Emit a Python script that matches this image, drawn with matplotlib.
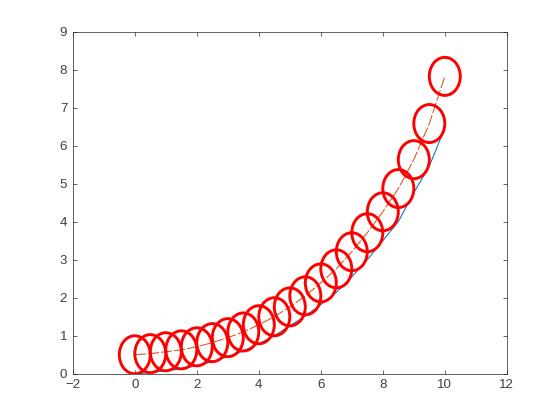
import matplotlib
matplotlib.use("Agg")
import matplotlib.pyplot as plt
from matplotlib.patches import Ellipse

# ---- data ----
x_vals = [0, 0.5, 1, 1.5, 2, 2.5, 3, 3.5, 4, 4.5, 5, 5.5, 6, 6.5, 7, 7.5, 8, 8.5, 9, 9.5, 10]
y_circle = [0.50, 0.53, 0.58, 0.63, 0.71, 0.82, 0.95, 1.10, 1.29, 1.50, 1.76, 2.05,
            2.39, 2.76, 3.21, 3.71, 4.26, 4.87, 5.63, 6.58, 7.82]
y_blue = [0.00, 0.03, 0.08, 0.13, 0.21, 0.32, 0.45, 0.60, 0.79, 1.00, 1.26, 1.52,
          1.82, 2.14, 2.55, 3.00, 3.50, 4.00, 4.76, 5.46, 6.46]
circle_diameter = 1.0
x_ticks = [-2, 0, 2, 4, 6, 8, 10, 12]
y_ticks = [0, 1, 2, 3, 4, 5, 6, 7, 8, 9]

plt.rcParams['font.family'] = ['Liberation Sans', 'DejaVu Sans']
plt.rcParams['lines.scale_dashes'] = False

fig = plt.figure(figsize=(5.6, 4.2), dpi=100)
ax = fig.add_axes([0.13, 0.11, 0.775, 0.815])

ax.plot(x_vals, y_blue, color='#0072BD', lw=0.75, zorder=2)
ax.plot(x_vals, y_circle, color='#D95319', lw=0.75, linestyle=(0, (8, 1.5)), zorder=2)

for xv, yv in zip(x_vals, y_circle):
    ax.add_patch(Ellipse((xv, yv), circle_diameter, circle_diameter, fill=False,
                         edgecolor='#FF0000', lw=2.1, zorder=3))

ax.set_xlim(-2, 12)
ax.set_ylim(0, 9)
ax.set_xticks(x_ticks)
ax.set_yticks(y_ticks)
ax.tick_params(direction='in', length=3.2, width=0.5, colors='#262626',
               labelsize=9.6, top=True, right=True, pad=4)
ax.tick_params(labelcolor='#404040')
for s in ax.spines.values():
    s.set_linewidth(0.5)
    s.set_color('#262626')

fig.savefig('out.png', dpi=100)
